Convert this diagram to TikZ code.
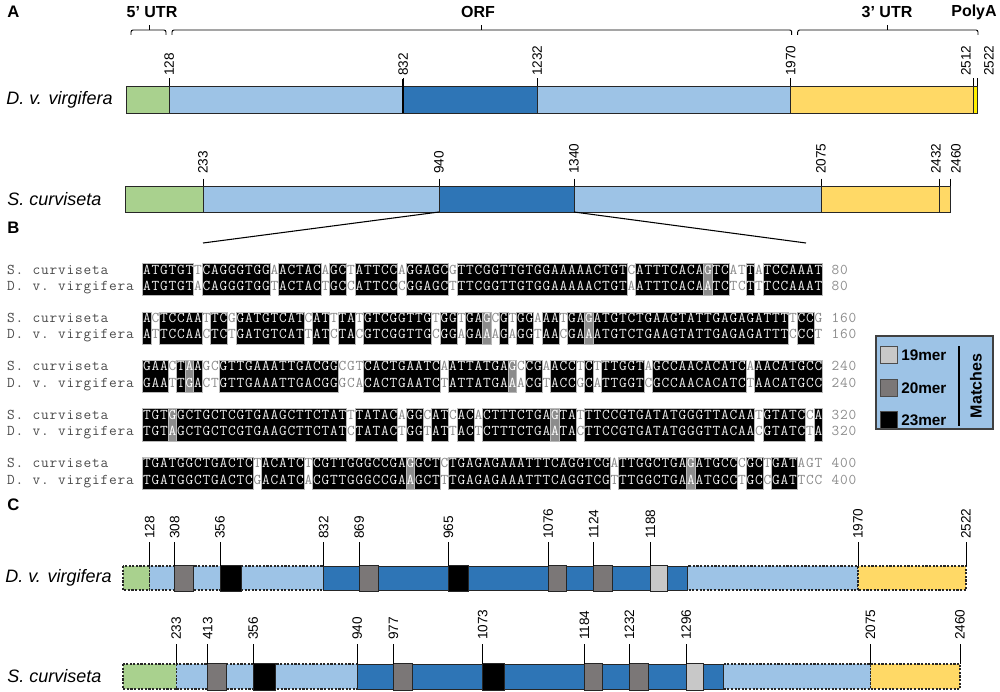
\documentclass[tikz,border=0pt]{standalone}
\usepackage{fontspec}
\setmainfont{Liberation Sans}
\definecolor{cgreen}{HTML}{A9D18E}
\definecolor{clblue}{HTML}{9DC3E6}
\definecolor{cdblue}{HTML}{2E75B6}
\definecolor{cyellow}{HTML}{FFD966}
\definecolor{cbyellow}{HTML}{FFF000}
\definecolor{clgray}{HTML}{C8C8C8}
\definecolor{cmgray}{HTML}{7B7777}
\definecolor{alnw}{HTML}{8A8A8A}
\definecolor{alnb}{HTML}{EDEDED}
\definecolor{alng}{HTML}{FFFFFF}
\definecolor{alngray}{HTML}{8C8C8C}
\definecolor{labgray}{HTML}{4A4A4A}
\definecolor{numgray}{HTML}{8C8C8C}

\newcommand\alnrun[4]{\filldraw[fill=#4, draw=gray!55, line width=0.5pt] ({142.7+(#2-1)*8.5},{#1-10.5}) rectangle ({142.7+#3*8.5},{#1+21.8});}
\newcommand\alnchar[6]{%
  \node[seqch, text=aln#5] (r#6s#2) at ({142.7+(#2-0.5)*8.5},#1) {#3};%
  \node[seqch, text=aln#5] (r#6d#2) at ({142.7+(#2-0.5)*8.5},{#1+16.5}) {#4};}
\newcommand\alnlch[5]{\node[seqch, text=#5] (#1) at (#2,#3) {#4};}
\newcommand\alnlabels[3]{%
  \alnstr{sl#1c}{6.7}{#2}{S. curviseta}{labgray}%
  \alnstr{dl#1c}{6.7}{#2+16.5}{D. v. virgifera}{labgray}%
  \alnstr{ns#1c}{831.2}{#2}{#3}{numgray}%
  \alnstr{nd#1c}{831.2}{#2+16.5}{#3}{numgray}}

\ExplSyntaxOn
\str_new:N \l_aln_s_str
\str_new:N \l_aln_d_str
\str_new:N \l_aln_c_str
\str_new:N \l_aln_p_str
\str_new:N \l_aln_t_str
\clist_new:N \l_aln_g_clist
\int_new:N \l_aln_st_int
\NewDocumentCommand \alnstr { m m m m m }
 {
  \str_set:Nn \l_aln_t_str {#4}
  \int_step_inline:nn { \str_count:N \l_aln_t_str }
   {
    \use:e { \exp_not:N \alnlch {#1##1} { \fp_eval:n { #2 + (##1-0.5)*8.5 } } { \fp_eval:n {#3} } { \str_item:Nn \l_aln_t_str {##1} } {#5} }
   }
 }
\NewDocumentCommand \alnrow { m m m m m m }
 {
  \str_set:Nn \l_aln_s_str {#3}
  \str_set:Nn \l_aln_d_str {#4}
  \clist_set:Nn \l_aln_g_clist {#5}
  \str_clear:N \l_aln_c_str
  \int_step_inline:nn {80}
   {
    \str_if_eq:eeTF { \str_item:Nn \l_aln_s_str {##1} } { \str_item:Nn \l_aln_d_str {##1} }
     { \str_put_right:Nn \l_aln_c_str {b} }
     {
      \clist_if_in:NnTF \l_aln_g_clist {##1}
       { \str_put_right:Nn \l_aln_c_str {g} }
       { \str_put_right:Nn \l_aln_c_str {w} }
     }
   }
  \str_put_right:Nn \l_aln_c_str {e}
  \str_set:Nn \l_aln_p_str {w}
  \int_set:Nn \l_aln_st_int {1}
  \int_step_inline:nn {81}
   {
    \str_if_eq:eeF { \str_item:Nn \l_aln_c_str {##1} } { \l_aln_p_str }
     {
      \str_if_eq:eeT { \l_aln_p_str } {b}
       { \use:e { \exp_not:N \alnrun {#2} { \int_use:N \l_aln_st_int } { \int_eval:n {##1-1} } {black} } }
      \str_if_eq:eeT { \l_aln_p_str } {g}
       { \use:e { \exp_not:N \alnrun {#2} { \int_use:N \l_aln_st_int } { \int_eval:n {##1-1} } {alngray} } }
      \int_set:Nn \l_aln_st_int {##1}
      \str_set:Nx \l_aln_p_str { \str_item:Nn \l_aln_c_str {##1} }
     }
   }
  \int_step_inline:nn {80}
   {
    \use:e { \exp_not:N \alnchar {#2} {##1} { \str_item:Nn \l_aln_s_str {##1} } { \str_item:Nn \l_aln_d_str {##1} } { \str_item:Nn \l_aln_c_str {##1} } {#1} }
   }
  \alnlabels {#1} {#2} {#6}
 }
\ExplSyntaxOff

\begin{document}
\begin{tikzpicture}[x=0.75pt,y=-0.75pt,
  seg/.style={draw=black!85, line width=0.6pt},
  dseg/.style={draw=black!85, line width=0.8pt, dash pattern=on 1.6pt off 1.1pt},
  box/.style={draw=black!85, line width=0.6pt},
  tick/.style={draw=black, line width=0.6pt},
  numlab/.style={rotate=90, anchor=west, inner sep=0pt, font=\fontsize{10.2}{12}\selectfont},
  spec/.style={anchor=west, inner sep=0pt, font=\fontsize{13.5}{16}\selectfont\itshape},
  hdr/.style={inner sep=0pt, font=\fontsize{12}{14}\selectfont\bfseries},
  panel/.style={inner sep=0pt, anchor=west, font=\fontsize{12.5}{14}\selectfont\bfseries},
  seqch/.style={inner sep=0pt, anchor=base, font=\ttfamily\fontsize{11.2}{12}\selectfont},
  brace/.style={draw=black, line width=0.7pt, rounded corners=1.5pt},
  legtxt/.style={anchor=west, inner sep=0pt, font=\fontsize{11.5}{13}\selectfont\bfseries}]
\useasboundingbox (0,0) rectangle (1000,692);

% ---------- Panel A ----------
\node[panel] (pA) at (7,12) {A};
\node[hdr] (h5) at (152,12) {5’ UTR};
\node[hdr] (hO) at (478,12) {ORF};
\node[hdr] (h3) at (887,12) {3’ UTR};
\node[hdr] (hP) at (974,12) {PolyA};
\draw[brace] (131,35) -- (131,30) -- (166,30) -- (166,35);
\draw[brace] (149,30) -- (149,25);
\draw[brace] (172,35) -- (172,30) -- (791.7,30) -- (791.7,35);
\draw[brace] (481.7,30) -- (481.7,25);
\draw[brace] (797.7,35) -- (797.7,30) -- (978,30) -- (978,35);
\draw[brace] (887.7,30) -- (887.7,25);

\node[spec] (spA1) at (6,100) {D. v. virgifera};
\filldraw[fill=cgreen, seg] (126,86) rectangle (169.3,113);
\filldraw[fill=clblue, seg] (169.3,86) rectangle (403.3,113);
\filldraw[fill=cdblue, seg] (403.3,86) rectangle (537.3,113);
\filldraw[fill=clblue, seg] (537.3,86) rectangle (790.7,113);
\filldraw[fill=cyellow, seg] (790.7,86) rectangle (973.5,113);
\filldraw[fill=cbyellow, seg] (973.5,86) rectangle (977,113);
\draw[line width=1.6pt] (403.3,79) -- (403.3,113);
\foreach \x/\l/\lx in {169.3/128/169.3, 403.3/832/403.3, 537.3/1232/537.3, 790.7/1970/790.7, 973.5/2512/966, 977/2522/989}{
  \draw[tick] (\x,78.5) -- (\x,86);
  \node[numlab] (ta\l) at (\lx,76) {\l};
}

\node[spec] (spA2) at (7,199) {S. curviseta};
\filldraw[fill=cgreen, seg] (125,186) rectangle (203,212);
\filldraw[fill=clblue, seg] (203,186) rectangle (439,212);
\filldraw[fill=cdblue, seg] (439,186) rectangle (574,212);
\filldraw[fill=clblue, seg] (574,186) rectangle (821,212);
\filldraw[fill=cyellow, seg] (821,186) rectangle (939,212);
\filldraw[fill=cyellow, seg] (939,186) rectangle (950,212);
\foreach \x/\l/\lx in {203/233/203, 439/940/439, 574/1340/574, 821/2075/821, 939/2432/936, 950/2460/956}{
  \draw[tick] (\x,178.5) -- (\x,186);
  \node[numlab] (tb\l) at (\lx,174) {\l};
}
\coordinate (zl0) at (439,212);
\coordinate (zr0) at (574,212);
\coordinate (zl) at (203,243);
\coordinate (zr) at (806,243);
\draw[line width=0.8pt] (zl0) -- (zl);
\draw[line width=0.8pt] (zr0) -- (zr);

% ---------- Panel B ----------
\node[panel] (pB) at (7,228) {B};
\alnrow{1}{274}{ATGTGTTCAGGGTGGAACTACAGCTATTCCAGGAGCGTTCGGTTGTGGAAAAACTGTCATTTCACAGTCATTATCCAAAT}{ATGTGTACAGGGTGGTACTACTGCCATTCCCGGAGCTTTCGGTTGTGGAAAAACTGTAATTTCACAATCTCTTTCCAAAT}{67}{80}
\alnrow{2}{322.4}{ACTCCAATTCGGATGTCATCATTTATGTCGGTTGTGGTGAGCGTGGAAATGAGATGTCTGAAGTATTGAGAGATTTTCCG}{ATTCCAACTCTGATGTCATTATCTACGTCGGTTGCGGAGAAAGAGGTAACGAAATGTCTGAAGTATTGAGAGATTTCCCT}{41,53}{160}
\alnrow{3}{370.8}{GAACTAAGCGTTGAAATTGACGGCGTCACTGAATCAATTATGAGCCGAACCTCTTTGGTAGCCAACACATCAAACATGCC}{GAATTGACTGTTGAAATTGACGGGCACACTGAATCTATTATGAAACGTACCGCATTGGTCGCCAACACATCTAACATGCC}{6,44}{240}
\alnrow{4}{419.2}{TGTGGCTGCTCGTGAAGCTTCTATTTATACAGGCATCACACTTTCTGAGTATTTCCGTGATATGGGTTACAATGTATCCA}{TGTAGCTGCTCGTGAAGCTTCTATCTATACTGGTATTACTCTTTCTGAATACTTCCGTGATATGGGTTACAACGTATCTA}{4,49}{320}
\alnrow{5}{467.6}{TGATGGCTGACTCTACATCTCGTTGGGCCGAGGCTCTGAGAGAAATTTCAGGTCGATTGGCTGAGATGCCCGCTGATAGT}{TGATGGCTGACTCGACATCACGTTGGGCCGAAGCTTTGAGAGAAATTTCAGGTCGTTTGGCTGAAATGCCTGCCGATTCC}{32,65}{400}

% legend
\filldraw[fill=clblue, draw=black!75, line width=0.8pt] (876,336) rectangle (993,429);
\filldraw[fill=clgray, draw=black!70, line width=0.6pt] (880,346) rectangle (897,363);
\filldraw[fill=cmgray, draw=black!70, line width=0.6pt] (880,379) rectangle (897,396);
\filldraw[fill=black, draw=black!70, line width=0.6pt] (880,411) rectangle (897,428);
\node[legtxt] (l19) at (901,355) {19mer};
\node[legtxt] (l20) at (901,388) {20mer};
\node[legtxt] (l23) at (901,420) {23mer};
\draw[line width=0.8pt] (959,346) -- (959,426);
\node[rotate=90, inner sep=0pt, font=\fontsize{12}{14}\selectfont\bfseries] (lm) at (976,386) {Matches};

% ---------- Panel C ----------
\node[panel] (pC) at (7,505) {C};
\node[spec] (spC1) at (5,578) {D. v. virgifera};
\filldraw[fill=cgreen, dseg] (123,566) rectangle (149.7,590);
\filldraw[fill=clblue, dseg] (149.7,566) rectangle (323.7,590);
\filldraw[fill=cdblue, seg] (323.7,566) rectangle (687.5,590);
\filldraw[fill=clblue, dseg] (687.5,566) rectangle (858,590);
\filldraw[fill=cyellow, dseg] (858,566) rectangle (966,590);
\foreach \a/\b/\c in {174.6/193.2/cmgray, 219.9/241.4/black, 359.1/378.3/cmgray, 448.5/468.8/black, 548.3/566.8/cmgray, 593.5/612.1/cmgray, 650.4/667.8/clgray}{
  \filldraw[fill=\c, box] (\a,565) rectangle (\b,591);
}
\foreach \x/\l in {149.7/128, 174.6/308, 219.9/356, 323.7/832, 359.1/869, 448.5/965, 548.3/1076, 593.5/1124, 650.4/1188, 858/1970, 966/2522}{
  \draw[tick] (\x,542) -- (\x,566);
  \node[numlab] (tc\l) at (\x,539) {\l};
}

\node[spec] (spC2) at (7,676) {S. curviseta};
\filldraw[fill=cgreen, dseg] (123,664) rectangle (176.2,689);
\filldraw[fill=clblue, dseg] (176.2,664) rectangle (357.2,689);
\filldraw[fill=cdblue, seg] (357.2,664) rectangle (723.5,689);
\filldraw[fill=clblue, dseg] (723.5,664) rectangle (870.5,689);
\filldraw[fill=cyellow, dseg] (870.5,664) rectangle (960,689);
\foreach \a/\b/\c in {207.7/226.4/cmgray, 253.3/274.9/black, 393.4/412.1/cmgray, 482.8/504.4/black, 584.4/601.9/cmgray, 629.4/648.1/cmgray, 686.1/703.6/clgray}{
  \filldraw[fill=\c, box] (\a,663) rectangle (\b,690);
}
\foreach \x/\l in {176.2/233, 207.7/413, 253.3/356, 357.2/940, 393.4/977, 482.8/1073, 584.4/1184, 629.4/1232, 686.1/1296, 870.5/2075, 960/2460}{
  \draw[tick] (\x,644) -- (\x,664);
  \node[numlab] (td\l) at (\x,640) {\l};
}
\end{tikzpicture}
\end{document}
